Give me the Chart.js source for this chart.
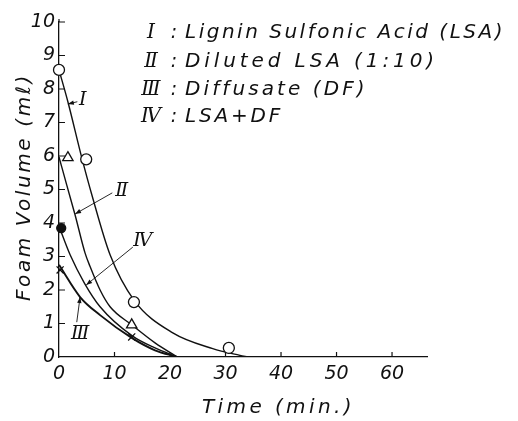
<!doctype html>
<html lang="en">
<head>
<meta charset="utf-8">
<title>Foam Volume</title>
<script src="https://cdn.jsdelivr.net/npm/chart.js@4.4.1/dist/chart.umd.min.js"></script>
<style>
  body { margin: 0; background: #fff; }
  #wrap { width: 518px; height: 421px; }
</style>
</head>
<body>
<div id="wrap"><canvas id="foam" width="518" height="421"></canvas></div>
<script>
// I : Lignin Sulfonic Acid (LSA) - drawn curve and measured points
const timeI = [0, 1.6, 4.1, 5.9, 9.2, 13.5, 20.5, 27.7, 32.6, 34];
const volI  = [8.57, 7.62, 5.95, 4.85, 3.05, 1.7, 0.72, 0.25, 0.05, 0];
const markTimeI = [0, 4.9, 13.5, 30.6];
const markVolI  = [8.57, 5.9, 1.64, 0.27];

// II : Diluted LSA (1:10)
const timeII = [0, 1.4, 2.9, 4.7, 5.6, 7.4, 9.2, 13.1, 17.3, 21.3];
const volII  = [5.97, 5.13, 4.24, 3.1, 2.7, 2.0, 1.5, 0.96, 0.42, 0];
const markTimeII = [1.6, 13.1];
const markVolII  = [5.95, 0.96];

// III : Diffusate (DF)
const timeIII = [0, 3.8, 7.4, 13.1, 17.3, 21.3];
const volIII  = [2.75, 1.79, 1.25, 0.57, 0.2, 0];
const markTimeIII = [0.2, 13.1];
const markVolIII  = [2.6, 0.6];

// IV : LSA+DF
const timeIV = [0, 2.0, 4.6, 7.4, 13.2, 17.3, 21.3];
const volIV  = [3.9, 3.05, 2.2, 1.5, 0.63, 0.27, 0];
const markTimeIV = [0.4];
const markVolIV  = [3.85];

const numerals = ['Ⅰ', 'Ⅱ', 'Ⅲ', 'Ⅳ'];
const legendText = ['Lignin Sulfonic Acid (LSA)', 'Diluted LSA (1:10)', 'Diffusate (DF)', 'LSA+DF'];

// curve tags with arrows, in data units: label position, arrow start, arrow tip
const tags = [
  { n: 0, at: [4.3, 7.67], from: [3.3, 7.62], to: [1.6, 7.55] },
  { n: 1, at: [11.3, 4.96], from: [9.6, 4.9], to: [2.9, 4.27] },
  { n: 2, at: [3.8, 0.69], from: [3.2, 1.04], to: [3.8, 1.79] },
  { n: 3, at: [15.1, 3.46], from: [13.3, 3.28], to: [4.9, 2.15] }
];

const xy = (ts, vs) => ts.map((t, i) => ({ x: t, y: vs[i] }));
const ink = '#111';
const thin = "italic 200 19px 'DejaVu Sans'";

function curve(ts, vs, w) {
  return { data: xy(ts, vs), borderColor: ink, borderWidth: w, pointRadius: 0,
           cubicInterpolationMode: 'monotone', fill: false, order: 1 };
}
function marks(ts, vs, style, r, bg) {
  return { data: xy(ts, vs), showLine: false, pointStyle: style, pointRadius: r,
           pointBackgroundColor: bg, pointBorderColor: ink, pointBorderWidth: 1.3,
           clip: false, order: 0 };
}

function fitText(ctx, str, left, base, width) {
  ctx.letterSpacing = '0px';
  const w = ctx.measureText(str).width;
  ctx.letterSpacing = ((width - w) / str.length) + 'px';
  ctx.fillText(str, left, base);
  ctx.letterSpacing = '0px';
}

const decor = {
  id: 'decor',
  afterDraw(chart) {
    const { ctx, scales: { x, y } } = chart;
    ctx.save();
    ctx.strokeStyle = ink;
    ctx.fillStyle = ink;
    ctx.lineWidth = 1.2;

    // inward tick marks
    ctx.beginPath();
    for (let v = 1; v <= 10; v++) {
      const py = y.getPixelForValue(v);
      ctx.moveTo(x.left, py); ctx.lineTo(x.left + 6, py);
    }
    for (let t = 10; t <= 60; t += 10) {
      const px = x.getPixelForValue(t);
      ctx.moveTo(px, y.bottom); ctx.lineTo(px, y.bottom - 5);
    }
    ctx.moveTo(x.left, y.top); ctx.lineTo(x.left, y.top - 3);
    ctx.stroke();

    // legend block
    ctx.textBaseline = 'alphabetic';
    const bases = [38, 67, 95, 122];
    const widths = [320, 253, 183, 98];
    bases.forEach((b, i) => {
      ctx.font = "italic 20px 'DejaVu Serif'";
      ctx.textAlign = 'center';
      ctx.fillText(numerals[i], 151, b);
      ctx.font = thin;
      ctx.fillText(':', 174, b);
      ctx.textAlign = 'left';
      ctx.font = "italic 200 20px 'DejaVu Sans'";
      fitText(ctx, legendText[i], 185, b, widths[i]);
    });

    // curve tags
    ctx.lineWidth = 0.9;
    tags.forEach(tg => {
      const fx = x.getPixelForValue(tg.from[0]), fy = y.getPixelForValue(tg.from[1]);
      const tx = x.getPixelForValue(tg.to[0]), ty = y.getPixelForValue(tg.to[1]);
      ctx.beginPath(); ctx.moveTo(fx, fy); ctx.lineTo(tx, ty); ctx.stroke();
      const a = Math.atan2(ty - fy, tx - fx);
      ctx.beginPath();
      ctx.moveTo(tx, ty);
      ctx.lineTo(tx - 6 * Math.cos(a) + 2.2 * Math.sin(a), ty - 6 * Math.sin(a) - 2.2 * Math.cos(a));
      ctx.lineTo(tx - 6 * Math.cos(a) - 2.2 * Math.sin(a), ty - 6 * Math.sin(a) + 2.2 * Math.cos(a));
      ctx.closePath(); ctx.fill();
      ctx.font = "italic 19px 'DejaVu Serif'";
      ctx.textAlign = 'center';
      ctx.textBaseline = 'middle';
      ctx.fillText(numerals[tg.n], x.getPixelForValue(tg.at[0]), y.getPixelForValue(tg.at[1]));
    });

    // axis titles
    ctx.textBaseline = 'alphabetic';
    ctx.textAlign = 'left';
    ctx.font = "italic 200 20px 'DejaVu Sans'";
    fitText(ctx, 'Time (min.)', 202, 413, 153);
    ctx.translate(30, 187);
    ctx.rotate(-Math.PI / 2);
    fitText(ctx, 'Foam Volume (mℓ)', -114, 0, 228);
    ctx.restore();
  }
};

new Chart(document.getElementById('foam'), {
  type: 'line',
  data: {
    datasets: [
      marks(markTimeI, markVolI, 'circle', 5.5, '#fff'),
      marks(markTimeII, markVolII, 'triangle', 6, '#fff'),
      marks(markTimeIII, markVolIII, 'crossRot', 5, ink),
      marks(markTimeIV, markVolIV, 'circle', 4.5, ink),
      curve(timeI, volI, 1.4),
      curve(timeII, volII, 1.4),
      curve(timeIII, volIII, 1.9),
      curve(timeIV, volIV, 1.4)
    ]
  },
  options: {
    responsive: false,
    animation: false,
    layout: { padding: { top: 22, right: 91, left: 0, bottom: 0 } },
    plugins: { legend: { display: false }, tooltip: { enabled: false } },
    scales: {
      x: {
        type: 'linear', min: 0, max: 66.3,
        grid: { display: false, drawTicks: false },
        border: { display: true, color: ink, width: 1.3 },
        ticks: { stepSize: 10, includeBounds: false, padding: 6, color: ink,
                 font: { family: 'DejaVu Sans', style: 'italic', weight: '200', size: 19 },
                 callback: v => (v <= 60 ? v : '') },
        afterFit: s => { s.height = 64; }
      },
      y: {
        min: 0, max: 10,
        grid: { display: false, drawTicks: false },
        border: { display: true, color: ink, width: 1.3 },
        ticks: { stepSize: 1, padding: 4, color: ink,
                 font: { family: 'DejaVu Sans', style: 'italic', weight: '200', size: 19 } },
        afterFit: s => { s.width = 59; }
      }
    }
  },
  plugins: [decor]
});
</script>
</body>
</html>
